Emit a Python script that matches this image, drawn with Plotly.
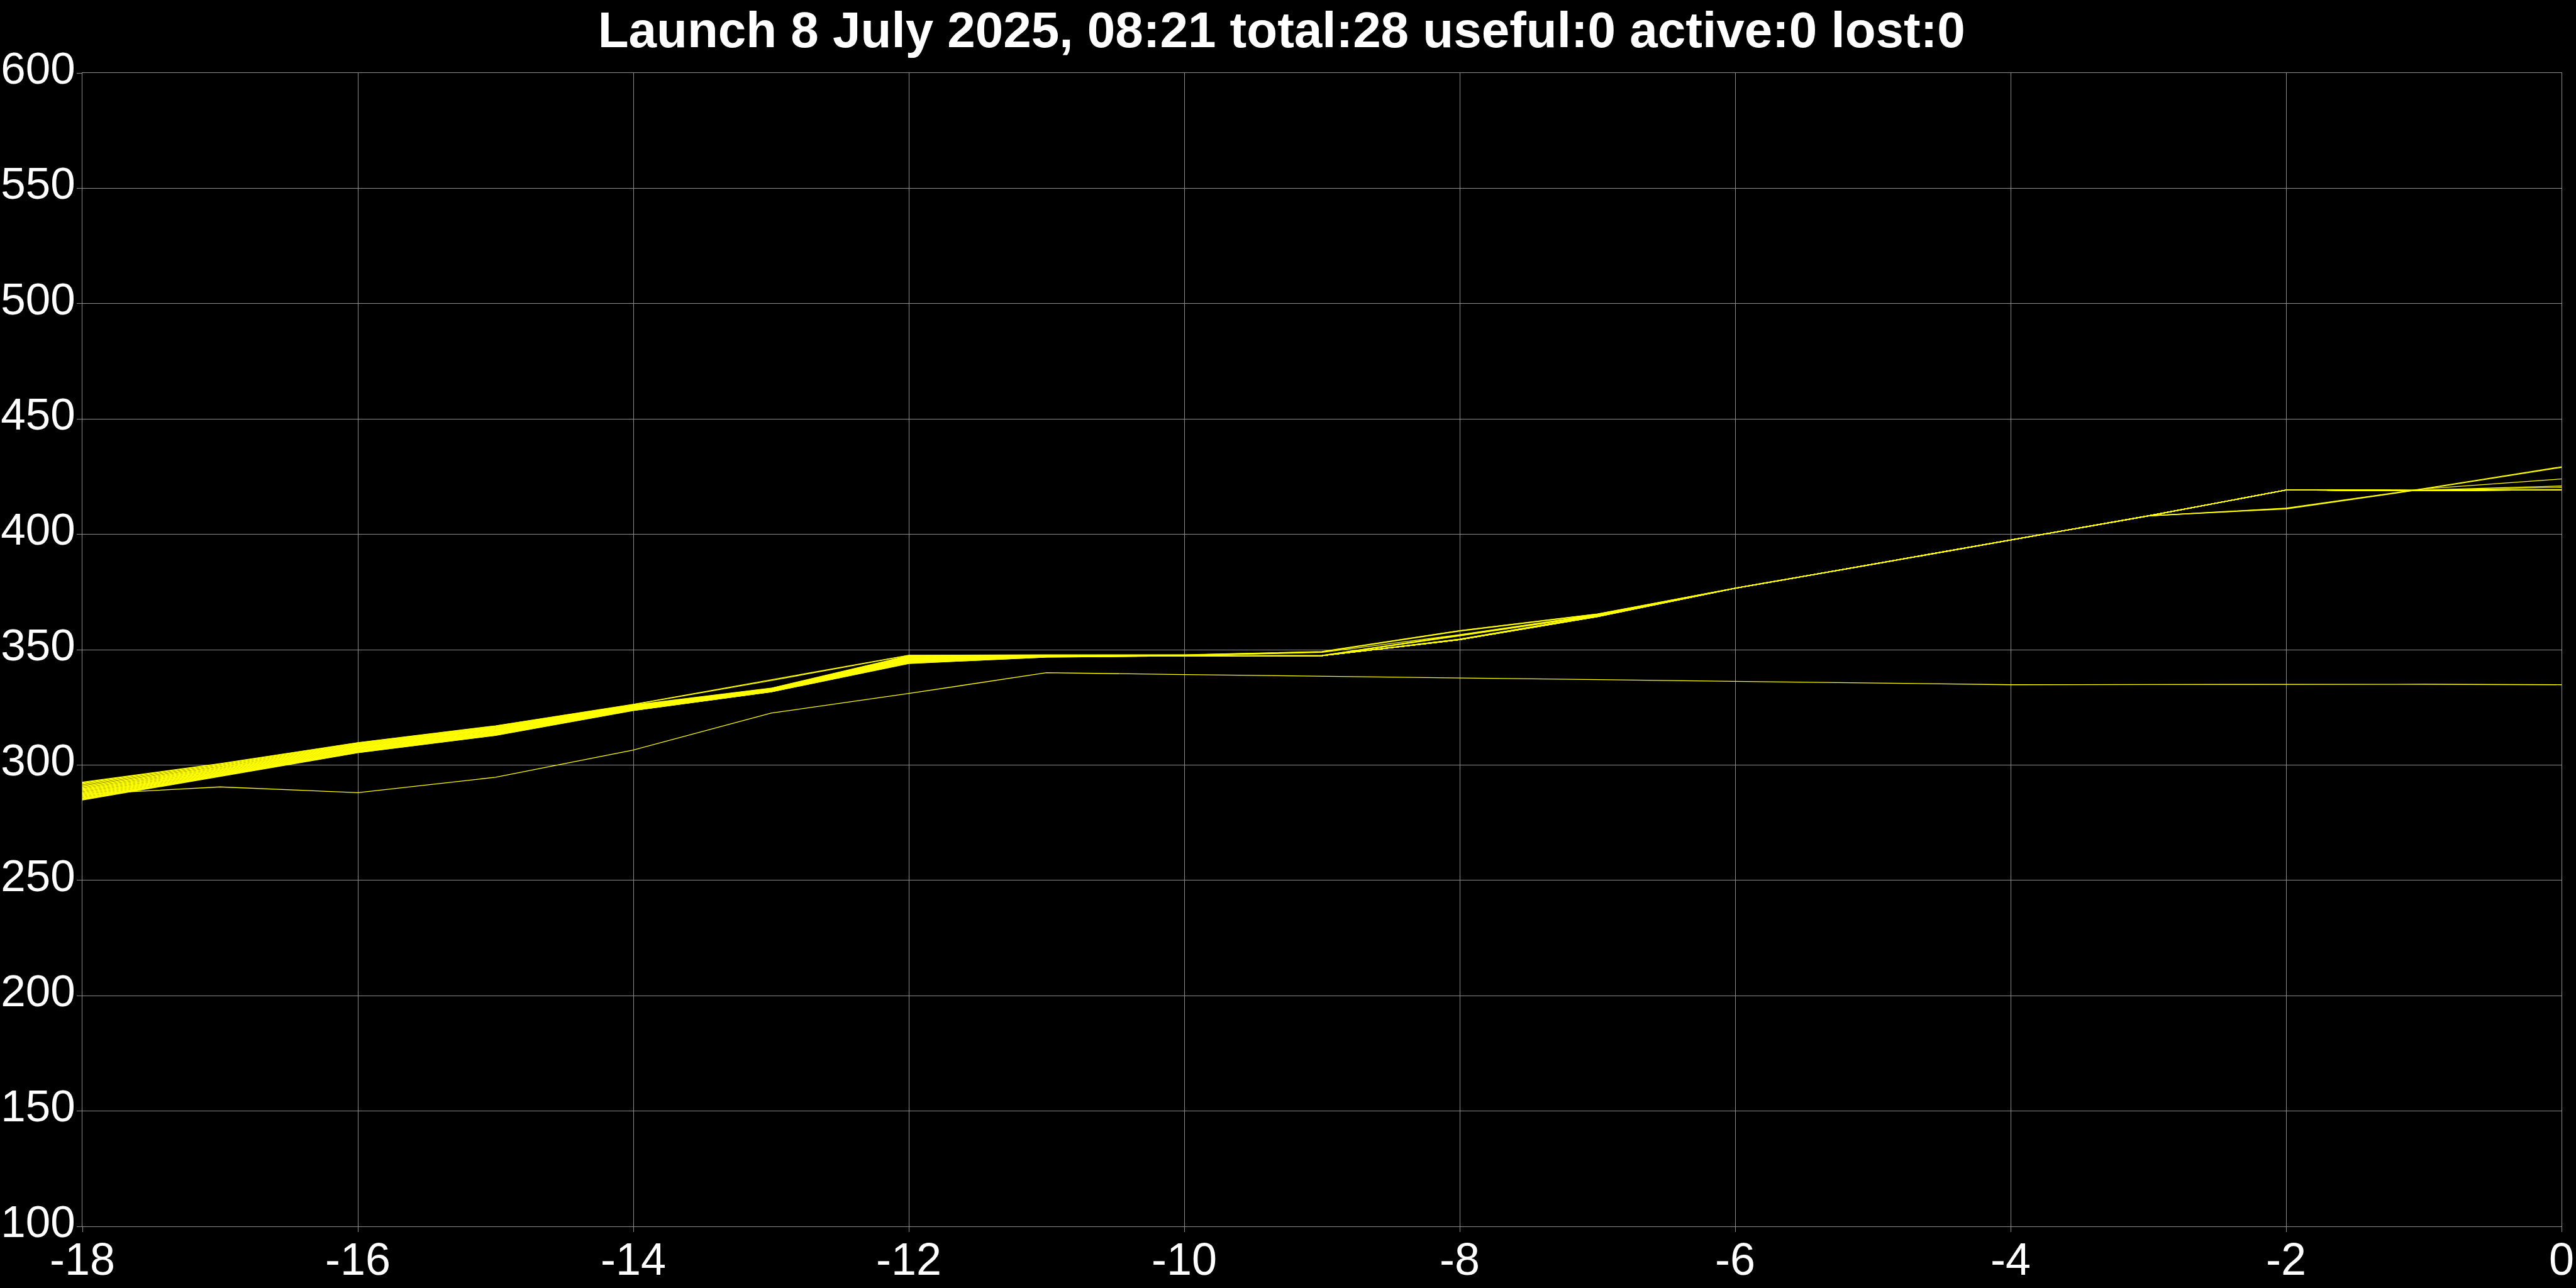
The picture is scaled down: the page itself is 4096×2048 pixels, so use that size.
import plotly.graph_objects as go

# time axis (shared by every series)
x_values = [-18, -17, -16, -15, -14, -13, -12, -11, -10, -9, -8, -7, -6, -5, -4, -3, -2, -1, 0]

s01 = [292.6, 300.6, 309.7, 317.0, 326.3, 337.0, 347.6, 347.8, 347.8, 349.2, 358.3, 365.5, 376.7, 387.0, 397.6, 408.0, 419.2, 419.1, 419.4]
s02 = [292.3, 300.4, 309.6, 316.9, 326.2, 336.6, 347.5, 347.7, 347.7, 349.1, 358.2, 365.4, 376.7, 387.0, 397.6, 408.0, 419.2, 419.0, 419.3]
s03 = [292.0, 300.1, 309.4, 316.7, 326.0, 333.3, 347.4, 347.6, 347.4, 349.0, 358.0, 365.3, 376.7, 387.0, 397.6, 408.0, 419.2, 419.2, 421.0]
s04 = [291.6, 299.8, 309.2, 316.5, 325.9, 333.2, 347.2, 347.6, 347.4, 348.8, 356.5, 365.2, 376.6, 387.0, 397.6, 408.0, 419.2, 419.0, 419.3]
s05 = [291.2, 299.5, 309.0, 316.3, 325.8, 333.1, 347.0, 347.5, 347.3, 347.5, 356.4, 365.1, 376.6, 387.0, 397.6, 408.0, 419.2, 419.1, 420.4]
s06 = [290.8, 299.2, 308.8, 316.1, 325.6, 333.0, 346.8, 347.5, 347.3, 347.5, 356.3, 365.0, 376.6, 387.0, 397.6, 408.0, 419.2, 418.9, 419.3]
s07 = [290.5, 298.9, 308.6, 315.9, 325.5, 332.9, 346.6, 347.4, 347.3, 347.4, 356.2, 364.9, 376.6, 387.0, 397.6, 408.0, 419.2, 419.0, 419.3]
s08 = [290.1, 298.7, 308.4, 315.7, 325.4, 332.8, 346.4, 347.4, 347.3, 347.4, 356.1, 364.9, 376.6, 387.0, 397.6, 408.0, 419.2, 419.0, 419.3]
s09 = [289.8, 298.4, 308.2, 315.5, 325.3, 332.7, 346.2, 347.4, 347.3, 347.4, 356.0, 364.8, 376.6, 387.0, 397.6, 408.0, 419.2, 418.9, 419.3]
s10 = [289.5, 298.2, 308.0, 315.3, 325.2, 332.6, 346.0, 347.3, 347.3, 347.4, 354.6, 364.8, 376.6, 387.0, 397.6, 408.0, 419.2, 419.0, 419.3]
s11 = [289.2, 297.9, 307.8, 315.1, 325.0, 332.5, 345.9, 347.3, 347.3, 347.4, 354.5, 364.7, 376.6, 387.0, 397.6, 408.0, 419.2, 419.0, 419.3]
s12 = [288.9, 297.7, 307.6, 314.9, 324.9, 332.5, 345.8, 347.3, 347.3, 347.4, 354.5, 364.7, 376.6, 387.0, 397.6, 408.0, 419.2, 419.1, 419.3]
s13 = [288.6, 297.5, 307.4, 314.7, 324.8, 332.4, 345.7, 347.3, 347.3, 347.4, 354.4, 364.6, 376.6, 387.0, 397.6, 408.0, 419.2, 419.0, 419.3]
s14 = [288.3, 297.2, 307.2, 314.6, 324.7, 332.3, 345.6, 347.3, 347.3, 347.4, 354.4, 364.6, 376.6, 387.0, 397.6, 408.0, 419.2, 419.0, 419.3]
s15 = [288.0, 297.0, 307.0, 314.4, 324.6, 332.3, 345.5, 347.3, 347.3, 347.4, 354.4, 364.6, 376.6, 387.0, 397.6, 408.0, 419.2, 418.9, 419.3]
s16 = [287.7, 296.8, 306.8, 314.2, 324.5, 332.2, 345.4, 347.3, 347.3, 347.4, 354.4, 364.5, 376.6, 387.0, 397.6, 408.0, 419.2, 419.0, 419.3]
s17 = [287.4, 296.6, 306.6, 314.0, 324.4, 332.2, 345.3, 347.3, 347.3, 347.4, 354.3, 364.5, 376.6, 387.0, 397.6, 408.0, 419.2, 419.0, 419.3]
s18 = [287.1, 296.4, 306.4, 313.9, 324.3, 332.1, 345.2, 347.2, 347.3, 347.4, 354.3, 364.5, 376.6, 387.0, 397.6, 408.0, 419.2, 419.1, 419.3]
s19 = [286.8, 296.2, 306.2, 313.7, 324.2, 332.1, 345.1, 347.2, 347.3, 347.4, 354.3, 364.5, 376.6, 387.0, 397.6, 408.0, 419.2, 419.0, 419.3]
s20 = [286.5, 296.0, 306.0, 313.6, 324.1, 332.0, 345.0, 347.1, 347.3, 347.4, 354.3, 364.4, 376.6, 387.0, 397.6, 408.0, 419.2, 419.0, 419.3]
s21 = [286.2, 295.8, 305.9, 313.4, 324.0, 332.0, 344.8, 347.1, 347.3, 347.4, 354.3, 364.4, 376.6, 387.0, 397.6, 408.0, 419.2, 418.9, 419.3]
s22 = [285.9, 295.6, 305.8, 313.3, 323.9, 331.9, 344.6, 347.0, 347.3, 347.4, 354.3, 364.4, 376.6, 387.0, 397.6, 408.0, 419.2, 419.0, 419.3]
s23 = [285.6, 295.5, 305.7, 313.2, 323.9, 331.9, 344.5, 347.0, 347.3, 347.4, 354.3, 364.4, 376.6, 387.0, 397.6, 408.0, 419.2, 419.0, 419.3]
s24 = [285.4, 295.4, 305.6, 313.1, 323.8, 331.8, 344.4, 346.9, 347.3, 347.4, 354.3, 364.3, 376.6, 387.0, 397.6, 408.0, 419.2, 419.0, 419.3]
s25 = [285.2, 295.3, 305.5, 313.0, 323.7, 331.8, 344.3, 346.9, 347.3, 347.4, 354.3, 364.3, 376.6, 387.0, 397.6, 408.0, 411.2, 419.7, 424.0]
s26 = [285.0, 295.1, 305.4, 312.9, 323.7, 331.7, 344.1, 346.8, 347.3, 347.4, 354.3, 364.3, 376.6, 387.0, 397.6, 408.0, 411.0, 419.6, 429.0]
s27 = [284.8, 295.0, 305.3, 312.8, 323.6, 331.7, 344.0, 346.8, 347.3, 347.4, 354.3, 364.3, 376.6, 387.0, 397.6, 408.0, 411.4, 419.8, 429.3]
s28 = [287.3, 290.5, 288.0, 294.7, 306.5, 322.5, 331.0, 340.0, 339.2, 338.5, 337.8, 337.1, 336.4, 335.6, 334.8, 334.9, 335.0, 335.0, 334.8]

all_series = [s01, s02, s03, s04, s05, s06, s07, s08, s09, s10, s11, s12, s13, s14,
              s15, s16, s17, s18, s19, s20, s21, s22, s23, s24, s25, s26, s27, s28]

x_ticks = [-18, -16, -14, -12, -10, -8, -6, -4, -2, 0]
y_ticks = [100, 150, 200, 250, 300, 350, 400, 450, 500, 550, 600]

title_text = "Launch 8 July 2025, 08:21 total:28 useful:0 active:0 lost:0"

fig = go.Figure()
for s in all_series:
    fig.add_trace(go.Scatter(
        x=x_values, y=s, mode="lines",
        line=dict(color="#ffff00", width=1.3),
        showlegend=False, hoverinfo="skip",
    ))

FONT = "Liberation Sans, Arial, Helvetica, sans-serif"
GRID = "#8c8c8c"

fig.update_layout(
    width=4096, height=2048,
    paper_bgcolor="#000000", plot_bgcolor="#000000",
    margin=dict(l=131, r=23, t=116, b=98, pad=0, autoexpand=False),
    title=dict(
        text="<b>" + title_text + "</b>",
        x=0.4975, xanchor="center", xref="container",
        y=1 - 47 / 2048, yanchor="middle", yref="container",
        font=dict(family=FONT, size=80, color="#ffffff"),
        automargin=False,
    ),
    showlegend=False,
)
fig.update_xaxes(
    range=[-18, 0], tickvals=x_ticks, ticktext=[str(v) for v in x_ticks],
    showgrid=True, gridcolor=GRID, gridwidth=1,
    showline=True, linecolor=GRID, linewidth=1, mirror=True,
    ticks="outside", ticklen=8, tickcolor=GRID, tickwidth=1,
    tickfont=dict(family=FONT, size=72, color="#ffffff"),
    ticklabelstandoff=-18,
    zeroline=False, automargin=False,
)
fig.update_yaxes(
    range=[100, 600], tickvals=y_ticks, ticktext=[str(v) for v in y_ticks],
    showgrid=True, gridcolor=GRID, gridwidth=1,
    showline=True, linecolor=GRID, linewidth=1, mirror=True,
    ticks="outside", ticklen=8, tickcolor=GRID, tickwidth=1,
    tickfont=dict(family=FONT, size=71, color="#ffffff"),
    ticklabelstandoff=-12, ticklabelshift=-8,
    zeroline=False, automargin=False,
)

fig.write_html(
    "out.html",
    config={"displayModeBar": False},
    post_script="document.body.style.margin='0';document.body.style.background='#000';",
)
